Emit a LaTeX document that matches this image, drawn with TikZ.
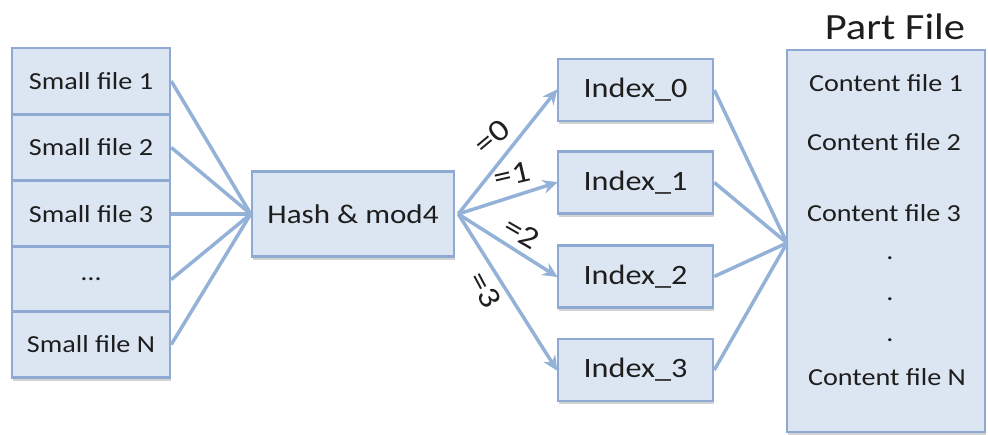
\documentclass[tikz,border=0pt]{standalone}
\usepackage{fontspec}
\setmainfont[FakeStretch=1.15]{Carlito}
\usetikzlibrary{arrows.meta,shadows}
\definecolor{boxfill}{HTML}{DCE6F2}
\definecolor{boxline}{HTML}{8EAAD2}
\definecolor{wire}{HTML}{94B2D8}
\definecolor{ink}{HTML}{1E1E1E}
\tikzset{
  cell/.style={draw=boxline, line width=2.5pt, fill=boxfill, text=ink,
    inner sep=0pt, drop shadow={shadow xshift=1pt, shadow yshift=-3pt, opacity=0.35, fill=gray}},
  wireline/.style={draw=wire, line width=3.5pt},
  wirearrow/.style={wireline, -{Stealth[length=15pt, width=14pt, inset=5pt]}, shorten >=-1pt},
  eqlabel/.style={text=ink, font=\fontsize{31}{34}\selectfont, inner sep=0pt}
}
\begin{document}
\begin{tikzpicture}[x=1pt, y=-1pt]
\useasboundingbox (0,0) rectangle (988,434);

% stack of small files
\foreach \n/\t/\y in {s1/Small file 1/81, s2/Small file 2/147.5, s3/Small file 3/214, s4/{\textellipsis}/279.5, s5/Small file N/344.5}
  \node[cell, minimum width=158pt, minimum height=66pt, font=\fontsize{24.5}{28}\selectfont] (\n) at (91,\y) {\t};

% hashing step
\node[cell, minimum width=202pt, minimum height=85pt, font=\fontsize{27}{30}\selectfont] (hash) at (353,214) {Hash \& mod4};

% index files
\foreach \n/\t/\y in {i0/Index\_0/90, i1/Index\_1/182.5, i2/Index\_2/276.5, i3/Index\_3/370}
  \node[cell, minimum width=155pt, minimum height=62pt, font=\fontsize{28}{32}\selectfont] (\n) at (635.5,\y) {\t};

% part file
\node[cell, minimum width=198pt, minimum height=382pt] (part) at (886,241) {};
\node[text=ink, font=\fontsize{37}{40}\selectfont, inner sep=0pt] (ptitle) at (895,27) {Part File};
\begin{scope}[every node/.style={text=ink, inner sep=0pt, font=\fontsize{24.5}{28}\selectfont}]
  \node (c1) at (886,83) {Content file 1};
  \node (c2) at (884,142) {Content file 2};
  \node (c3) at (884,213) {Content file 3};
  \node (d1) at (890,258) {.};
  \node (d2) at (890,299) {.};
  \node (d3) at (890,340) {.};
  \node (cN) at (887,377) {Content file N};
\end{scope}

% connectors: small files into hash
\foreach \n in {s1,s2,s3,s4,s5}
  \draw[wireline] (\n.east) -- (hash.west);

% connectors: hash to indexes
\coordinate (hout) at ([xshift=3pt]hash.east);
\foreach \n in {i0,i1,i2,i3}
  \draw[wirearrow] (hout) -- (\n.west);

% connectors: indexes into part file
\coordinate (pin) at (787,243);
\foreach \n in {i0,i1,i2,i3}
  \draw[wireline] (\n.east) -- (pin);

% bucket labels
\node[eqlabel, rotate=40] (l0) at (492,137) {=0};
\node[eqlabel, rotate=13] (l1) at (512,175) {=1};
\node[eqlabel, rotate=-30] (l2) at (522,233) {=2};
\node[eqlabel, rotate=-62] (l3) at (485,290) {=3};
\end{tikzpicture}
\end{document}
